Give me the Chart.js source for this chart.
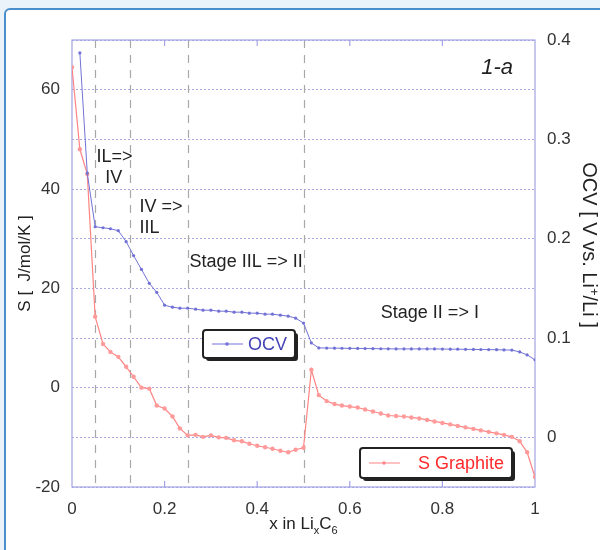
<!DOCTYPE html>
<html>
<head>
<meta charset="utf-8">
<script src="https://cdn.jsdelivr.net/npm/chart.js@4"></script>
<style>
body { margin: 0; background: #eaf3f9; width: 600px; height: 550px; overflow: hidden; position: relative; }
#frame { position: absolute; left: 4px; top: 8px; width: 620px; height: 570px; background: #fff; border: 2px solid #4a8fcc; border-radius: 6px; box-sizing: border-box; }
#myChart { position: absolute; left: 0; top: 0; }
</style>
</head>
<body>
<div id="frame"></div>
<canvas id="myChart" width="600" height="550"></canvas>
<script>
// -- ** data ** -- \\
const xValues = [0, 0.017, 0.033, 0.05, 0.067, 0.083, 0.1, 0.117, 0.133, 0.15,
  0.167, 0.183, 0.2, 0.217, 0.233, 0.25, 0.267, 0.283, 0.3, 0.317,
  0.333, 0.35, 0.367, 0.383, 0.4, 0.417, 0.433, 0.45, 0.467, 0.483,
  0.5, 0.517, 0.533, 0.55, 0.567, 0.583, 0.6, 0.617, 0.633, 0.65,
  0.667, 0.683, 0.7, 0.717, 0.733, 0.75, 0.767, 0.783, 0.8, 0.817,
  0.833, 0.85, 0.867, 0.883, 0.9, 0.917, 0.933, 0.95, 0.967, 0.983, 1];

const sGraphite = [64.5, 48, 43, 14.3, 8.8, 7.2, 6.2, 4.2, 2.2, 0,
  -0.2, -3.6, -4.2, -5.8, -8.2, -9.6, -9.5, -9.9, -9.6, -10,
  -10.1, -10.6, -10.8, -11.3, -11.7, -12, -12.3, -12.7, -13, -12.5,
  -12.1, 3.6, -1.5, -2.7, -3.3, -3.6, -3.8, -4.0, -4.4, -4.8,
  -5.2, -5.6, -5.7, -5.8, -6.0, -6.2, -6.5, -6.8, -7.1, -7.4,
  -7.7, -8.0, -8.3, -8.6, -8.9, -9.2, -9.5, -9.9, -10.8, -13, -18];

const ocv = [null, 0.387, 0.266, 0.212, 0.211, 0.210, 0.208, 0.197, 0.183, 0.169,
  0.155, 0.146, 0.133, 0.131, 0.130, 0.130, 0.129, 0.128, 0.128, 0.127,
  0.127, 0.126, 0.126, 0.125, 0.125, 0.124, 0.124, 0.123, 0.122, 0.120,
  0.115, 0.095, 0.090, 0.0899, 0.0898, 0.0897, 0.0896, 0.0895, 0.0894, 0.0893,
  0.0892, 0.0891, 0.089, 0.089, 0.089, 0.089, 0.089, 0.089, 0.0889, 0.0888,
  0.0887, 0.0886, 0.0885, 0.0884, 0.0883, 0.0882, 0.088, 0.0878, 0.086, 0.083, 0.078];

const stageBounds = [0.05, 0.125, 0.25, 0.5];
const xTicks = [0.2, 0.4, 0.6, 0.8];

// annotation texts, placed in data units (x, left axis)
const stageLabels = [
  { text: "IL=>", x: 0.053, y: 45.4 },
  { text: "IV", x: 0.072, y: 41.2 },
  { text: "IV =>", x: 0.146, y: 35.4 },
  { text: "IIL", x: 0.146, y: 31.2 },
  { text: "Stage IIL => II", x: 0.254, y: 24.3 },
  { text: "Stage II => I", x: 0.667, y: 14.1 }
];

const FONT = '"Liberation Sans", Arial, sans-serif';
const blueLine = "#7272d6";
const redLine = "#ff8484";

function toPoints(arr) {
  let pts = [];
  for (let i = 0; i < xValues.length; i++) {
    if (arr[i] !== null) pts.push({ x: xValues[i], y: arr[i] });
  }
  return pts;
}

// -- ** legend box ** -- \\
function legendBox(ctx, x, y, w, h, color, textColor, label) {
  ctx.save();
  ctx.fillStyle = "#222";
  ctx.beginPath();
  ctx.roundRect(x + 3, y + 3, w, h, 3);
  ctx.fill();
  ctx.fillStyle = "#fff";
  ctx.strokeStyle = "#222";
  ctx.lineWidth = 2;
  ctx.beginPath();
  ctx.roundRect(x, y, w, h, 3);
  ctx.fill();
  ctx.stroke();
  let my = y + h / 2;
  ctx.strokeStyle = color;
  ctx.lineWidth = 1;
  ctx.beginPath();
  ctx.moveTo(x + 9, my);
  ctx.lineTo(x + 40, my);
  ctx.stroke();
  ctx.fillStyle = color;
  ctx.beginPath();
  ctx.arc(x + 24, my, 1.8, 0, Math.PI * 2);
  ctx.fill();
  ctx.fillStyle = textColor;
  ctx.font = "18px " + FONT;
  ctx.textBaseline = "middle";
  ctx.textAlign = "right";
  ctx.fillText(label, x + w - 8, my + 1);
  ctx.restore();
}

const decorPlugin = {
  id: "decor",
  beforeDatasetsDraw(chart) {
    const ctx = chart.ctx;
    const a = chart.chartArea;
    const xs = chart.scales.x;
    ctx.save();
    // stage boundaries
    ctx.strokeStyle = "#a8a8a8";
    ctx.lineWidth = 1.2;
    ctx.setLineDash([8, 7]);
    stageBounds.forEach((b) => {
      let px = Math.round(xs.getPixelForValue(b)) + 0.5;
      ctx.beginPath();
      ctx.moveTo(px, a.top);
      ctx.lineTo(px, a.bottom);
      ctx.stroke();
    });
    ctx.setLineDash([]);
    // frame
    ctx.strokeStyle = "#a4a4e4";
    ctx.lineWidth = 1.2;
    ctx.strokeRect(a.left, a.top, a.right - a.left, a.bottom - a.top);
    // inside ticks
    xTicks.forEach((t) => {
      let px = xs.getPixelForValue(t);
      ctx.beginPath();
      ctx.moveTo(px, a.bottom);
      ctx.lineTo(px, a.bottom - 6);
      ctx.moveTo(px, a.top);
      ctx.lineTo(px, a.top + 6);
      ctx.stroke();
    });
    ctx.restore();
  },
  afterDatasetsDraw(chart) {
    const ctx = chart.ctx;
    const a = chart.chartArea;
    const xs = chart.scales.x;
    const ys = chart.scales.y;
    ctx.save();
    ctx.fillStyle = "#222";
    ctx.font = "18px " + FONT;
    ctx.textBaseline = "alphabetic";
    stageLabels.forEach((l) => {
      ctx.fillText(l.text, xs.getPixelForValue(l.x), ys.getPixelForValue(l.y));
    });
    ctx.font = "italic 22px " + FONT;
    ctx.textAlign = "right";
    ctx.fillText("1-a", a.right - 22, a.top + 34);

    // axis titles
    ctx.font = "17px " + FONT;
    ctx.textAlign = "center";
    ctx.save();
    ctx.translate(30, (a.top + a.bottom) / 2);
    ctx.rotate(-Math.PI / 2);
    ctx.fillText("S [  J/mol/K ]", 0, 0);
    ctx.restore();

    ctx.save();
    ctx.translate(583, 245);
    ctx.rotate(Math.PI / 2);
    ctx.textAlign = "left";
    let parts = [["OCV [ V vs. Li", 20, 0], ["+", 13, -7], ["/Li ]", 20, 0]];
    let total = 0;
    parts.forEach((p) => { ctx.font = p[1] + "px " + FONT; total += ctx.measureText(p[0]).width; });
    let cx = -total / 2;
    parts.forEach((p) => {
      ctx.font = p[1] + "px " + FONT;
      ctx.fillText(p[0], cx, p[2]);
      cx += ctx.measureText(p[0]).width;
    });
    ctx.restore();

    // x title with subscripts
    let xparts = [["x in Li", 17, 0], ["x", 11, 5], ["C", 17, 0], ["6", 11, 5]];
    let tw = 0;
    xparts.forEach((p) => { ctx.font = p[1] + "px " + FONT; tw += ctx.measureText(p[0]).width; });
    let sx = (a.left + a.right) / 2 - tw / 2;
    ctx.textAlign = "left";
    xparts.forEach((p) => {
      ctx.font = p[1] + "px " + FONT;
      ctx.fillText(p[0], sx, 529 + p[2]);
      sx += ctx.measureText(p[0]).width;
    });

    legendBox(ctx, 203, 330, 92, 28, blueLine, "#4444b8", "OCV");
    legendBox(ctx, 360, 448, 152, 30, redLine, "#ff2a2a", "S Graphite");
    ctx.restore();
  }
};

const myChart = document.getElementById("myChart");

const config = {
  type: "line",
  data: {
    datasets: [
      {
        label: "OCV",
        data: toPoints(ocv),
        yAxisID: "y2",
        borderColor: blueLine,
        backgroundColor: blueLine,
        borderWidth: 1,
        pointRadius: 1.6,
        pointBorderWidth: 0,
        tension: 0
      },
      {
        label: "S Graphite",
        data: toPoints(sGraphite),
        yAxisID: "y",
        borderColor: redLine,
        backgroundColor: "#ff9a9a",
        borderWidth: 1.2,
        pointRadius: 2.2,
        pointBorderWidth: 0,
        tension: 0
      }
    ]
  },
  options: {
    responsive: false,
    animation: false,
    layout: { padding: { top: 40, left: 0, right: 0, bottom: 0 } },
    plugins: { legend: { display: false }, tooltip: { enabled: false } },
    scales: {
      x: {
        type: "linear",
        min: 0,
        max: 1,
        border: { display: false },
        grid: { display: false },
        afterFit: (s) => { s.height = 63; },
        ticks: {
          stepSize: 0.2,
          padding: 4,
          color: "#333",
          font: { family: FONT, size: 17 },
          maxRotation: 0,
          callback: (v) => String(Math.round(v * 10) / 10)
        }
      },
      y: {
        position: "left",
        min: -20,
        max: 70,
        border: { display: false, dash: [2, 2] },
        afterFit: (s) => { s.width = 72; },
        grid: {
          color: "#a8a8e6",
          lineWidth: 1,
          drawTicks: false
        },
        ticks: {
          stepSize: 10,
          padding: 12,
          color: "#333",
          font: { family: FONT, size: 17 },
          callback: (v) => (v % 20 === 0 ? String(v) : "")
        }
      },
      y2: {
        position: "right",
        min: -0.05,
        max: 0.4,
        border: { display: false },
        afterFit: (s) => { s.width = 65; },
        grid: { drawOnChartArea: false, drawTicks: false },
        ticks: {
          stepSize: 0.1,
          padding: 12,
          color: "#333",
          font: { family: FONT, size: 17 },
          callback: (v) => (v < -0.001 ? "" : String(Math.round(v * 10) / 10))
        }
      }
    }
  },
  plugins: [decorPlugin]
};

window.myChart = new Chart(myChart, config);
</script>
</body>
</html>
